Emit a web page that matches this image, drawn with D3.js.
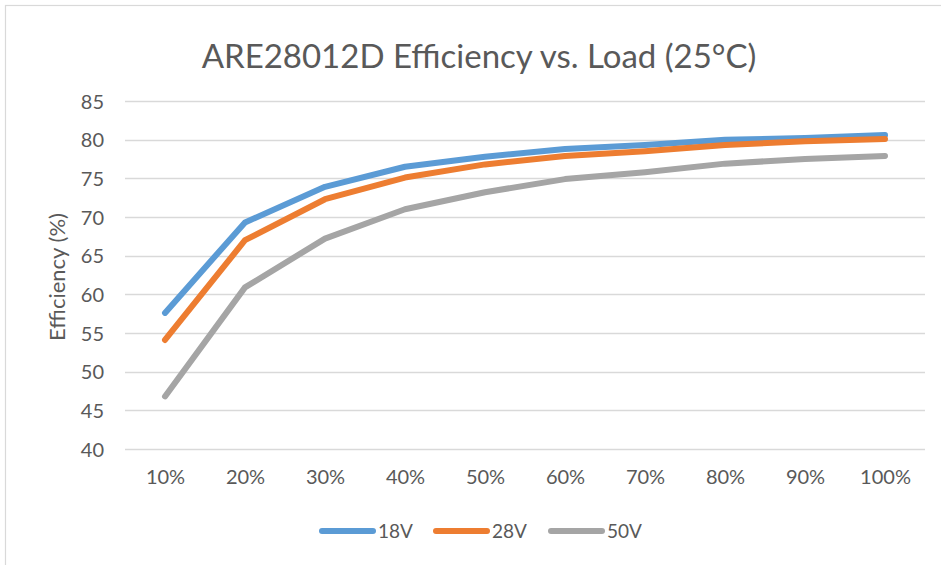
<!DOCTYPE html>
<html><head><meta charset="utf-8">
<script src="https://cdn.jsdelivr.net/npm/d3@7"></script>
<style>body{margin:0;background:#fff}svg{display:block}</style>
</head><body>
<svg id="c" width="941" height="565"></svg>
<script>
const categories = ["10%","20%","30%","40%","50%","60%","70%","80%","90%","100%"];
const v18 = [57.6,69.3,73.9,76.5,77.8,78.8,79.3,80.0,80.2,80.6];
const v28 = [54.1,67.0,72.3,75.1,76.8,77.9,78.5,79.3,79.8,80.1];
const v50 = [46.8,60.9,67.2,71.0,73.2,74.9,75.8,76.9,77.5,77.9];
const seriesNames = ["18V","28V","50V"];
const seriesColors = ["#5b9bd5","#ed7d31","#a5a5a5"];
const yTicks = [40,45,50,55,60,65,70,75,80,85];
const title = "ARE28012D Efficiency vs. Load (25°C)";
const yTitle = "Efficiency (%)";

const svg = d3.select("#c");
const font = "Lato, 'Open Sans', sans-serif";
svg.append("rect").attr("x",5.5).attr("y",5.5).attr("width",960).attr("height",600)
  .attr("fill","#fff").attr("stroke","#d9d9d9").attr("stroke-width",1.2);

const x = d3.scalePoint().domain(categories).range([125,925]).padding(0.5);
const y = d3.scaleLinear().domain([40,85]).range([449,101]);

const grid = svg.append("g");
grid.selectAll("line").data(yTicks).join("line")
  .attr("x1",125).attr("x2",925)
  .attr("y1",d=>Math.round(y(d))+0.5).attr("y2",d=>Math.round(y(d))+0.5)
  .attr("stroke","#d9d9d9").attr("stroke-width",1.3);

const yAxis = d3.axisLeft(y).tickValues(yTicks).tickSize(0).tickPadding(0);
const yg = svg.append("g").attr("transform","translate(104,0)").call(yAxis);
yg.select(".domain").remove();
yg.selectAll("text").attr("font-family",font).attr("font-size",20).attr("fill","#595959").attr("dy","0.35em");

const xAxis = d3.axisBottom(x).tickSize(0).tickPadding(0);
const xg = svg.append("g").attr("transform","translate(0,470)").call(xAxis);
xg.select(".domain").remove();
xg.selectAll("text").attr("font-family",font).attr("font-size",20).attr("fill","#595959").attr("dy","0.71em");

const data = [v18,v28,v50];
const line = d3.line().x((d,i)=>x(categories[i])).y(d=>y(d));
data.forEach((s,k)=>{
  svg.append("path").datum(s).attr("d",line).attr("fill","none")
    .attr("stroke",seriesColors[k]).attr("stroke-width",6)
    .attr("stroke-linecap","round").attr("stroke-linejoin","round");
});

svg.append("text").attr("x",479).attr("y",68).attr("text-anchor","middle")
  .attr("font-family",font).attr("font-size",33).attr("fill","#595959").text(title);

svg.append("text").attr("transform","translate(65,277) rotate(-90)").attr("text-anchor","middle")
  .attr("font-family",font).attr("font-size",22).attr("fill","#595959").text(yTitle);

const legX = [322,436,551];
const lg = svg.append("g");
seriesNames.forEach((n,k)=>{
  lg.append("line").attr("x1",legX[k]).attr("x2",legX[k]+51).attr("y1",531).attr("y2",531)
    .attr("stroke",seriesColors[k]).attr("stroke-width",6).attr("stroke-linecap","round");
  lg.append("text").attr("x",legX[k]+56).attr("y",531).attr("dy","0.35em")
    .attr("font-family",font).attr("font-size",19).attr("fill","#595959").text(n);
});
</script>
</body></html>
